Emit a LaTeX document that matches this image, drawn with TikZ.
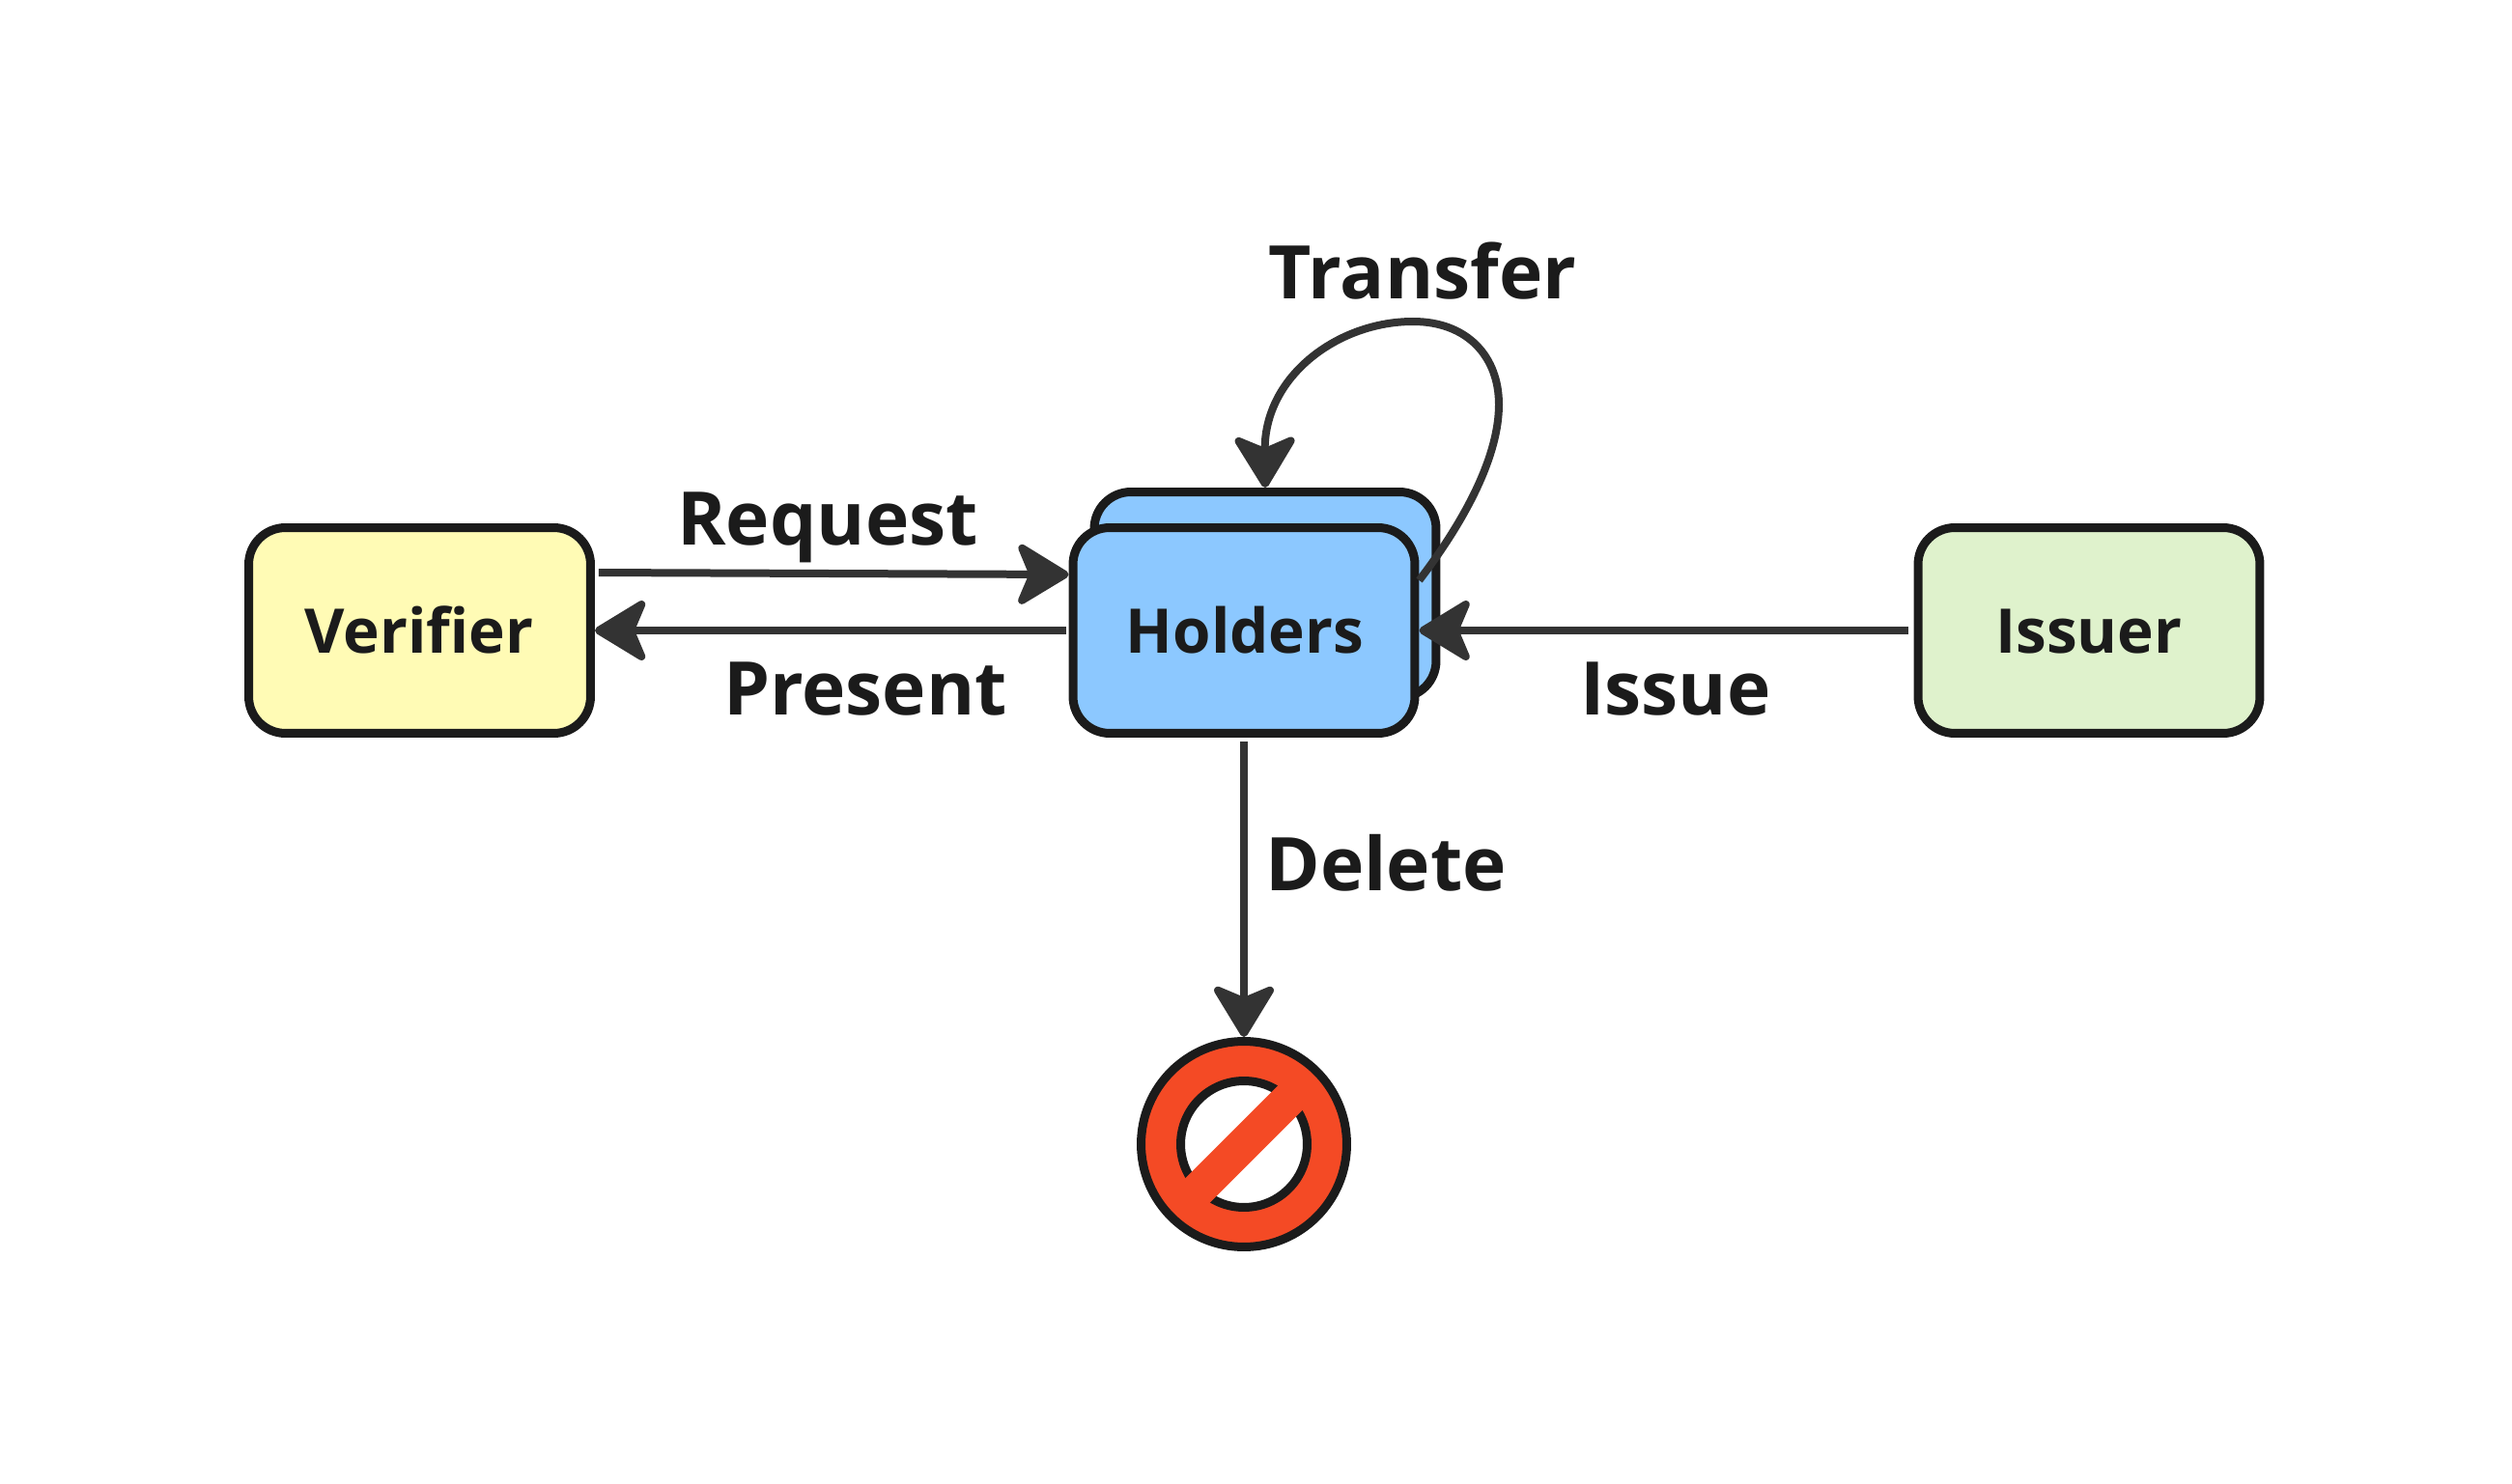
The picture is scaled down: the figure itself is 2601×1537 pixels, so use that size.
\documentclass[tikz,border=0pt]{standalone}
\usepackage{fontspec}
\setmainfont{Open Sans}
\usetikzlibrary{arrows.meta}
\definecolor{verifierfill}{HTML}{FFFBB5}
\definecolor{holderfill}{HTML}{8CC8FF}
\definecolor{issuerfill}{HTML}{DFF2CC}
\definecolor{stopfill}{HTML}{F44A25}
\definecolor{inkline}{HTML}{1B1B1B}
\definecolor{arrowline}{HTML}{333333}
\def\stepsize{0.02cm}

\begin{document}
\begin{tikzpicture}[x=\stepsize,y=-\stepsize]
    \tikzstyle{actor}=[draw=inkline,line width=0.18cm,rounded corners=0.76cm,minimum width=7.08cm,minimum height=4.26cm,inner sep=0pt]
    \tikzstyle{actorname}=[anchor=base,inner sep=0pt,font=\fontsize{36.3}{40}\selectfont\bfseries,text=inkline]
    \tikzstyle{flow}=[draw=arrowline,line width=0.16cm,-{Stealth[length=1.2cm,width=1.45cm,inset=0.3cm,round]}]
    \tikzstyle{flowlabel}=[anchor=base,inner sep=0pt,font=\fontsize{43.6}{48}\selectfont\bfseries,text=inkline]
    \useasboundingbox (0,0) rectangle (2601,1537);
    % Draw the boxes
    \node[actor,fill=verifierfill] (V) at (434.5,653) {};
    \node[actor,fill=holderfill] (B) at (1310,616) {};
    \node[actor,fill=holderfill] (H) at (1288,653) {};
    \node[actor,fill=issuerfill] (I) at (2163,653) {};
    \node[actorname] (Vt) at (434,676) {Verifier};
    \node[actorname] (Ht) at (1289,676) {Holders};
    \node[actorname] (It) at (2163,676) {Issuer};
    % The stop sign
    \node[circle,draw=inkline,fill=stopfill,line width=0.18cm,minimum size=4.26cm,inner sep=0pt] (D) at (1288,1185) {};
    \node[circle,draw=inkline,fill=white,line width=0.18cm,minimum size=2.62cm,inner sep=0pt] (Di) at (D.center) {};
    \draw[stopfill,line width=0.72cm,shorten <=-0.3cm,shorten >=-0.3cm] (Di.225) -- (Di.45);
    % Annotate the flows
    \draw[flow,shorten <=0.08cm] ([yshift=1.2cm]V.east) -- ([yshift=1.16cm]H.west);
    \draw[flow,shorten <=0.06cm] (H.west) -- (V.east);
    \draw[flow,shorten <=0.12cm] (I.west) -- (H.east);
    \draw[flow,shorten <=0.08cm] (H.south) -- (D.north);
    \draw[flow] ([yshift=1.04cm]H.east) .. controls (1520,535) and (1552,470) .. (1552,419)
        .. controls (1552,370) and (1520,333) .. (1463,333)
        .. controls (1385,333) and (1309,390) .. (B.north);
    \node[flowlabel] (T) at (1473,310) {Transfer};
    \node[flowlabel] (R) at (857,564) {Request};
    \node[flowlabel] (P) at (896,740) {Present};
    \node[flowlabel] (S) at (1735,740) {Issue};
    \node[flowlabel] (L) at (1435,922) {Delete};
\end{tikzpicture}
\end{document}
